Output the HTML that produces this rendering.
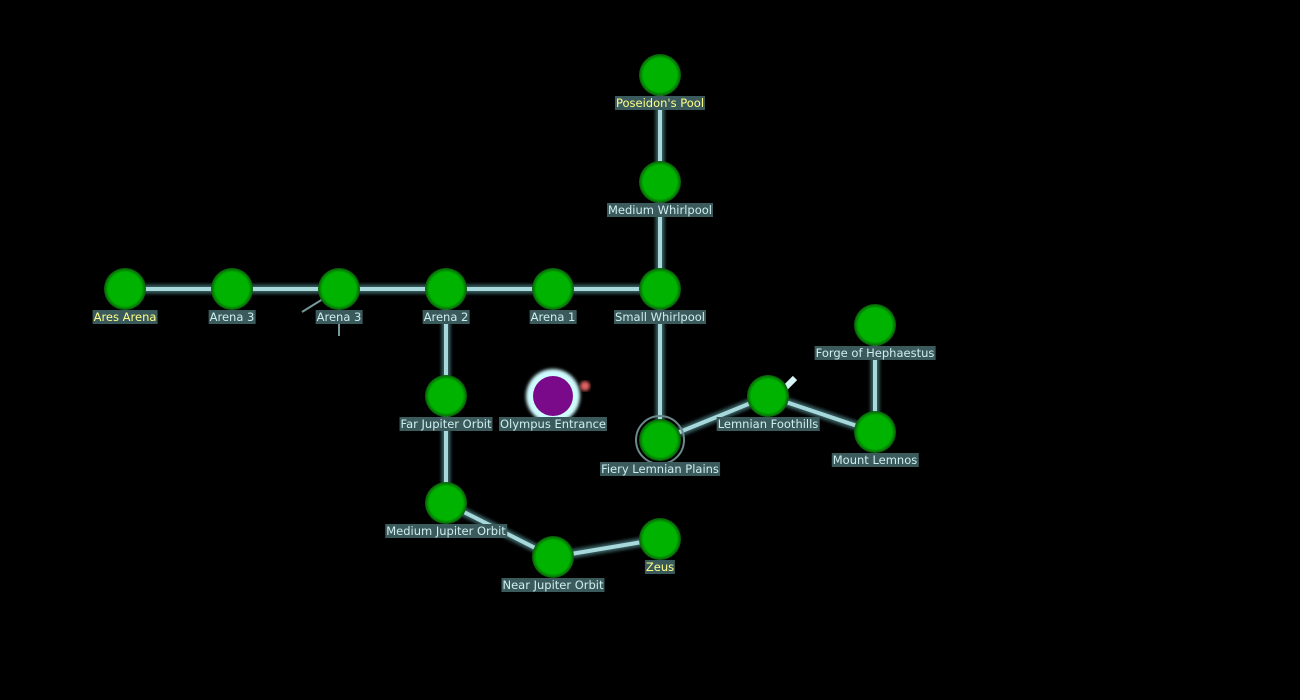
<!DOCTYPE html>
<html><head><meta charset="utf-8"><style>
body{margin:0;width:1300px;height:700px;background:#000;overflow:hidden;position:relative;font-family:"DejaVu Sans","Liberation Sans",sans-serif}
svg{position:absolute;left:0;top:0}
.l{position:absolute;transform:translateX(-50%);background:#3b5a5c;color:#cdeff0;font-size:11.5px;line-height:14px;padding:0 1px;white-space:nowrap}
.y{color:#ffff88}
</style></head><body>
<svg width="1300" height="700">
<defs>
<radialGradient id="g"><stop offset="0.8" stop-color="#00b300"/><stop offset="1" stop-color="#0a5a0a"/></radialGradient>
<filter id="b"><feGaussianBlur stdDeviation="1.5"/></filter>
</defs>
<g stroke="#5f9ea2" stroke-width="9" opacity="0.6" filter="url(#b)" fill="none">
<path d="M660 75V289M125 289H660M446 289V503L553 557L660 539M660 289V440L768 396L875 432V325"/>
</g>
<g stroke="#a6d8dc" stroke-width="4" fill="none">
<path d="M660 75V289M125 289H660M446 289V503L553 557L660 539M660 289V440L768 396L875 432V325"/>
<path d="M339 289L302 312M339 289V336" stroke-width="2" opacity="0.7"/>
<path d="M785 388L795 378" stroke="#d8f4f4" stroke-width="6"/>
</g>
<circle cx="660" cy="440" r="24" fill="none" stroke="#6a8a8a" stroke-width="2"/>
<g fill="url(#g)">
<circle cx="660" cy="75" r="21"/><circle cx="660" cy="182" r="21"/><circle cx="660" cy="289" r="21"/>
<circle cx="553" cy="289" r="21"/><circle cx="446" cy="289" r="21"/><circle cx="339" cy="289" r="21"/>
<circle cx="232" cy="289" r="21"/><circle cx="125" cy="289" r="21"/><circle cx="446" cy="396" r="21"/>
<circle cx="446" cy="503" r="21"/><circle cx="553" cy="557" r="21"/><circle cx="660" cy="539" r="21"/>
<circle cx="660" cy="440" r="21"/><circle cx="768" cy="396" r="21"/><circle cx="875" cy="432" r="21"/>
<circle cx="875" cy="325" r="21"/>
</g>
<circle cx="553" cy="396" r="27" fill="#cffcff" filter="url(#b)"/>
<circle cx="553" cy="396" r="20" fill="#7a0a8a"/>
<circle cx="585" cy="386" r="5" fill="#e06060" filter="url(#b)"/>
</svg>
<div class="l y" style="left:660px;top:96px">Poseidon's Pool</div>
<div class="l" style="left:660px;top:203px">Medium Whirlpool</div>
<div class="l" style="left:660px;top:310px">Small Whirlpool</div>
<div class="l" style="left:553px;top:310px">Arena 1</div>
<div class="l" style="left:446px;top:310px">Arena 2</div>
<div class="l" style="left:339px;top:310px">Arena 3</div>
<div class="l" style="left:232px;top:310px">Arena 3</div>
<div class="l y" style="left:125px;top:310px">Ares Arena</div>
<div class="l" style="left:446px;top:417px">Far Jupiter Orbit</div>
<div class="l" style="left:553px;top:417px">Olympus Entrance</div>
<div class="l" style="left:446px;top:524px">Medium Jupiter Orbit</div>
<div class="l" style="left:553px;top:578px">Near Jupiter Orbit</div>
<div class="l y" style="left:660px;top:560px">Zeus</div>
<div class="l" style="left:660px;top:462px">Fiery Lemnian Plains</div>
<div class="l" style="left:768px;top:417px">Lemnian Foothills</div>
<div class="l" style="left:875px;top:453px">Mount Lemnos</div>
<div class="l" style="left:875px;top:346px">Forge of Hephaestus</div>
</body></html>
